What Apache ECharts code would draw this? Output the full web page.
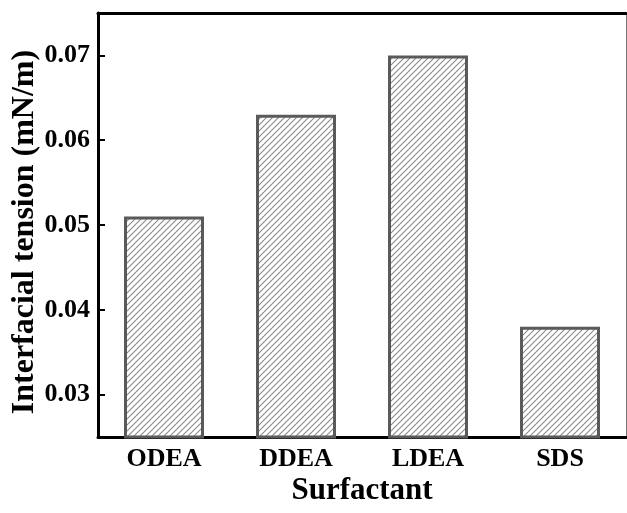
<!DOCTYPE html>
<html><head><meta charset="utf-8">
<script src="https://cdn.jsdelivr.net/npm/echarts@6/dist/echarts.min.js"></script>
<style>html,body{margin:0;padding:0;background:#fff}#c{width:627px;height:513px}</style>
</head><body><div id="c"></div>
<script>
const categories = ['ODEA', 'DDEA', 'LDEA', 'SDS'];
const tensionValues = [0.051, 0.063, 0.070, 0.038];
const yTicks = [0.03, 0.04, 0.05, 0.06, 0.07];

function hatch() {
  const s = 6;
  const cv = document.createElement('canvas');
  cv.width = s; cv.height = s;
  const g = cv.getContext('2d');
  g.fillStyle = '#fff'; g.fillRect(0, 0, s, s);
  g.strokeStyle = '#8a8a8a'; g.lineWidth = 1.1;
  g.beginPath();
  g.moveTo(0, s); g.lineTo(s, 0);
  g.moveTo(-1, 1); g.lineTo(1, -1);
  g.moveTo(s - 1, s + 1); g.lineTo(s + 1, s - 1);
  g.stroke();
  return cv;
}

const font = '"Liberation Serif", "Times New Roman", serif';
const chart = echarts.init(document.getElementById('c'), null, {renderer: 'canvas'});
chart.setOption({
  animation: false,
  grid: {left: 98, right: 1, top: 13, bottom: 76, containLabel: false, outerBoundsMode: 'none'},
  xAxis: [{
    type: 'category', data: categories, position: 'bottom',
    axisLine: {lineStyle: {color: '#000', width: 3}},
    axisTick: {show: true, inside: true, length: 5, alignWithLabel: true, lineStyle: {color: '#000', width: 2}},
    axisLabel: {margin: 9, fontFamily: font, fontWeight: 'bold', fontSize: 26, color: '#000'},
    name: 'Surfactant', nameLocation: 'middle', nameGap: 38, nameMoveOverlap: false,
    nameTextStyle: {fontFamily: font, fontWeight: 'bold', fontSize: 31, color: '#000'}
  }, {
    type: 'category', data: categories, position: 'top',
    axisLine: {lineStyle: {color: '#000', width: 3}},
    axisTick: {show: false}, axisLabel: {show: false}
  }],
  yAxis: [{
    type: 'value', min: 0.025, max: 0.075, interval: 0.005,
    axisLine: {show: true, lineStyle: {color: '#000', width: 3}},
    axisTick: {show: true, inside: true, length: 7, lineStyle: {color: '#000', width: 2},
      customValues: yTicks},
    axisLabel: {margin: 8, fontFamily: font, fontWeight: 'bold', fontSize: 26, color: '#000',
      customValues: yTicks, formatter: v => v.toFixed(2)},
    splitLine: {show: false},
    name: 'Interfacial tension (mN/m)', nameLocation: 'middle', nameGap: 57, nameMoveOverlap: false,
    nameTextStyle: {fontFamily: font, fontWeight: 'bold', fontSize: 32, color: '#000', padding: [0, 14, 0, 0]}
  }, {
    type: 'value', min: 0.025, max: 0.075, position: 'right',
    axisLine: {show: true, lineStyle: {color: '#777', width: 1}},
    axisTick: {show: false}, axisLabel: {show: false}, splitLine: {show: false}
  }],
  series: [{
    type: 'bar', data: tensionValues, barWidth: 80,
    itemStyle: {color: {image: hatch(), repeat: 'repeat'}, borderColor: '#5a5a5a', borderWidth: 3}
  }]
});
</script></body></html>
